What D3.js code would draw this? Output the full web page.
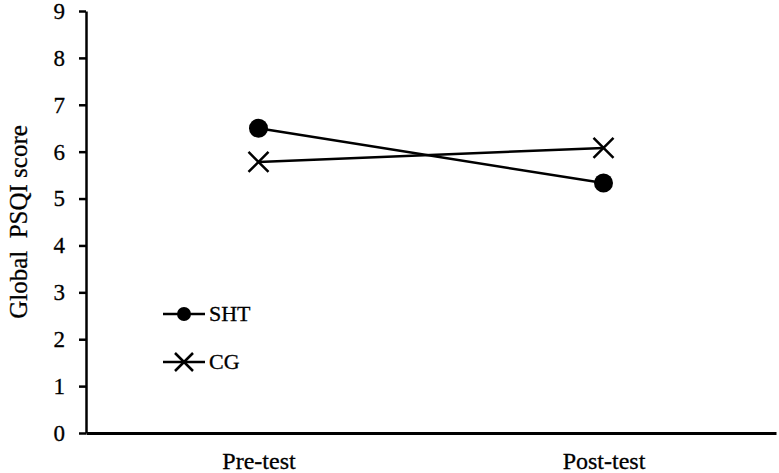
<!DOCTYPE html>
<html>
<head>
<meta charset="utf-8">
<script src="https://cdn.jsdelivr.net/npm/d3@7"></script>
<style>
  body { margin: 0; background: #fff; }
  text { font-family: "Liberation Serif", serif; fill: #000; stroke: #000; stroke-width: 0.3px; }
</style>
</head>
<body>
<div id="main"></div>
<script>
var phases = ["Pre-test", "Post-test"];
var shtScores = [6.5, 5.33];
var cgScores = [5.78, 6.08];
var yTicks = [0, 1, 2, 3, 4, 5, 6, 7, 8, 9];

var width = 779, height = 473;
var margin = {top: 11, right: 3, bottom: 40, left: 86};

var svg = d3.select("#main").append("svg")
  .attr("width", width)
  .attr("height", height);

var x = d3.scalePoint()
  .domain(phases)
  .range([margin.left, width - margin.right])
  .padding(0.5);

var y = d3.scaleLinear()
  .domain([0, 9])
  .range([height - margin.bottom, margin.top]);

// y axis
var yAxis = svg.append("g")
  .attr("transform", "translate(" + margin.left + ",0)")
  .call(d3.axisLeft(y).tickValues(yTicks).tickSize(7).tickPadding(14).tickSizeOuter(0));
yAxis.select(".domain").attr("stroke", "#000").attr("stroke-width", 2.5);
yAxis.selectAll(".tick line").attr("stroke-width", 2.5);
yAxis.selectAll("text").attr("font-size", 23).attr("font-family", "Liberation Serif");

// x axis (no ticks)
var xAxis = svg.append("g")
  .attr("transform", "translate(0," + y(0) + ")")
  .call(d3.axisBottom(x).tickSize(0).tickPadding(19).tickSizeOuter(0));
xAxis.select(".domain").attr("stroke", "#000").attr("stroke-width", 3);
xAxis.selectAll("text").attr("font-size", 24).attr("font-family", "Liberation Serif");

// y label
svg.append("text")
  .attr("transform", "translate(27," + ((margin.top + y(0)) / 2) + ") rotate(-90)")
  .attr("text-anchor", "middle")
  .attr("font-size", 25)
  .style("white-space", "pre")
  .text("Global  PSQI score");

var line = d3.line()
  .x(function(d, i){ return x(phases[i]); })
  .y(function(d){ return y(d); });

svg.append("path").datum(shtScores)
  .attr("d", line).attr("fill", "none").attr("stroke", "#000").attr("stroke-width", 2.5);
svg.append("path").datum(cgScores)
  .attr("d", line).attr("fill", "none").attr("stroke", "#000").attr("stroke-width", 2.5);

svg.selectAll(".sht").data(shtScores).enter().append("circle")
  .attr("class", "sht")
  .attr("cx", function(d, i){ return x(phases[i]); })
  .attr("cy", function(d){ return y(d); })
  .attr("r", 9.5)
  .attr("fill", "#000");

function cross(g, cx, cy, s) {
  g.append("path")
    .attr("d", "M" + (cx - s) + "," + (cy - s) + "L" + (cx + s) + "," + (cy + s) +
               "M" + (cx - s) + "," + (cy + s) + "L" + (cx + s) + "," + (cy - s))
    .attr("stroke", "#000").attr("stroke-width", 2.5).attr("fill", "none");
}
cgScores.forEach(function(d, i){ cross(svg, x(phases[i]), y(d), 10); });

// legend
var legend = svg.append("g");
legend.append("line").attr("x1", 163).attr("x2", 205).attr("y1", 314).attr("y2", 314)
  .attr("stroke", "#000").attr("stroke-width", 2.5);
legend.append("circle").attr("cx", 184).attr("cy", 314).attr("r", 7).attr("fill", "#000");
legend.append("text").attr("x", 209).attr("y", 321).attr("font-size", 22).text("SHT");

legend.append("line").attr("x1", 163).attr("x2", 205).attr("y1", 362).attr("y2", 362)
  .attr("stroke", "#000").attr("stroke-width", 2.5);
cross(legend, 184, 362, 9);
legend.append("text").attr("x", 209).attr("y", 369).attr("font-size", 22).text("CG");
</script>
</body>
</html>
